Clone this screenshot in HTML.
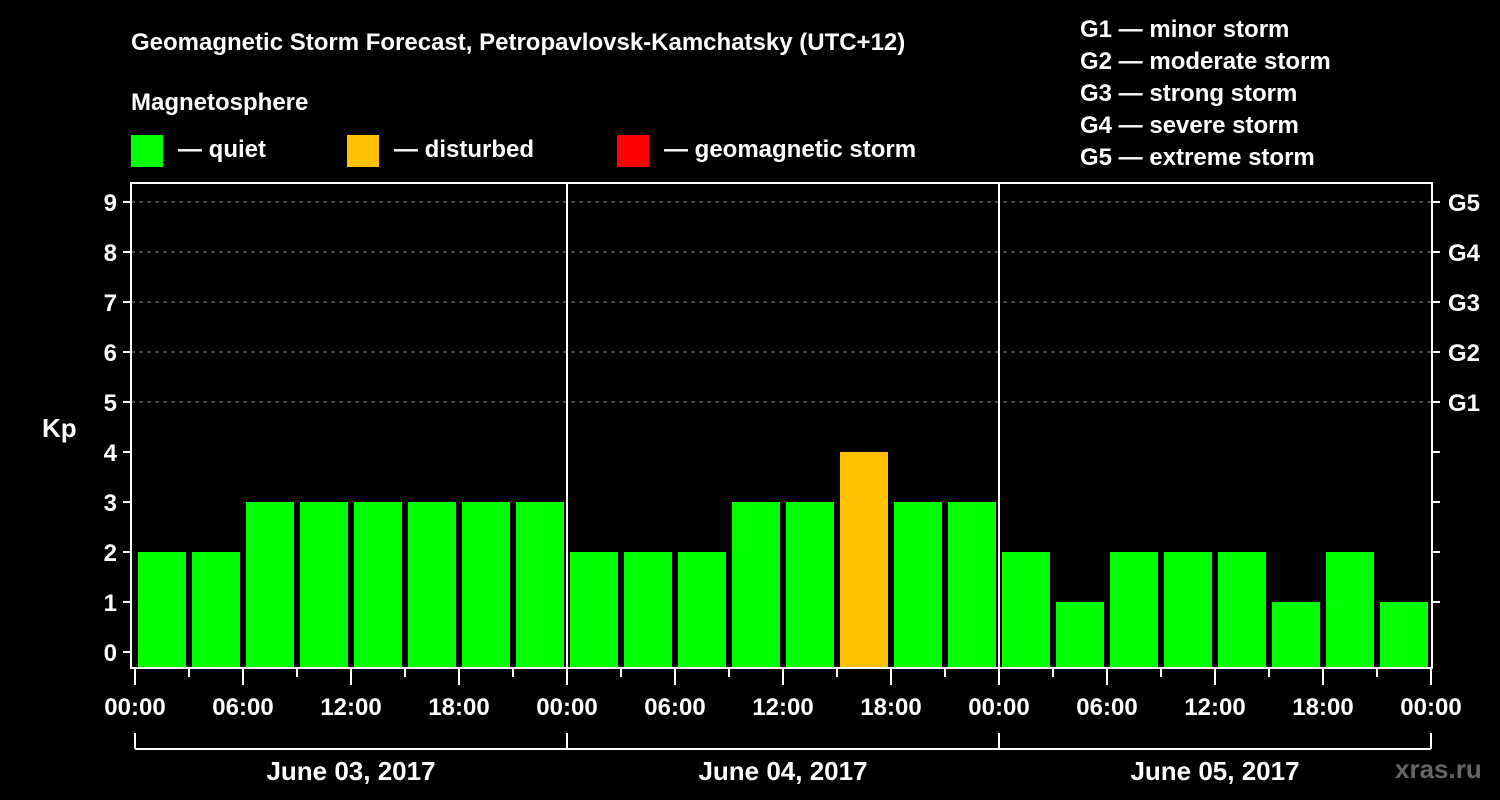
<!DOCTYPE html>
<html><head><meta charset="utf-8"><style>
html,body{margin:0;padding:0;background:#000;}
svg{display:block;font-family:"Liberation Sans",Arial,sans-serif;font-weight:bold;}
</style></head><body>
<svg id="chart" width="1500" height="800" viewBox="0 0 1500 800">
<rect width="1500" height="800" fill="#000"/>
<text x="131" y="50" fill="#fff" font-size="24">Geomagnetic Storm Forecast, Petropavlovsk-Kamchatsky (UTC+12)</text>
<text x="131" y="110" fill="#fff" font-size="24">Magnetosphere</text>
<g><rect x="131" y="135" width="32" height="32" fill="#00ff00"/><text x="178" y="157" fill="#fff" font-size="24">— quiet</text></g>
<g><rect x="347" y="135" width="32" height="32" fill="#ffc000"/><text x="394" y="157" fill="#fff" font-size="24">— disturbed</text></g>
<g><rect x="617" y="135" width="32" height="32" fill="#ff0000"/><text x="664" y="157" fill="#fff" font-size="24">— geomagnetic storm</text></g>
<g fill="#fff" font-size="24">
<text x="1080" y="37">G1 — minor storm</text>
<text x="1080" y="69">G2 — moderate storm</text>
<text x="1080" y="101">G3 — strong storm</text>
<text x="1080" y="133">G4 — severe storm</text>
<text x="1080" y="165">G5 — extreme storm</text>
</g>
<text x="42" y="437" fill="#fff" font-size="26">Kp</text>
<text x="1395" y="778" fill="#666" font-size="26">xras.ru</text>
<g id="grid"></g>
<g id="bars"></g>
<g id="axes"></g>
</svg>
<script>
const kpValues = [2,2,3,3,3,3,3,3, 2,2,2,3,3,4,3,3, 2,1,2,2,2,1,2,1];
const dayLabels = ["June 03, 2017","June 04, 2017","June 05, 2017"];
const hourLabels = ["00:00","06:00","12:00","18:00"];
const yTicks = [0,1,2,3,4,5,6,7,8,9];
const gLabels = ["G1","G2","G3","G4","G5"];
const NS="http://www.w3.org/2000/svg";
const X0=135, SLOT=54, Y0=652, UNIT=50, TOP=183, BOT=668, LEFT=131, RIGHT=1432;
const x = i => X0 + SLOT*i;
const y = v => Y0 - UNIT*v;
function mk(tag, attrs, parent, text){const e=document.createElementNS(NS,tag);for(const k in attrs)e.setAttribute(k,attrs[k]);if(text!==undefined)e.textContent=text;parent.appendChild(e);return e;}
const grid=document.getElementById('grid'), bars=document.getElementById('bars'), axes=document.getElementById('axes');
yTicks.forEach(v=>{
  if(v>=5){const l=mk('line',{x1:LEFT,x2:RIGHT,y1:y(v),y2:y(v),stroke:'#888','stroke-dasharray':'4,4','stroke-width':1},grid);
  
  }
  const t=mk('line',{x1:LEFT-8,x2:LEFT,y1:y(v),y2:y(v),stroke:'#fff','stroke-width':2},axes);
  
  
  const lb=mk('text',{x:LEFT-14,y:y(v)+9,fill:'#fff','font-size':24,'text-anchor':'end'},axes,String(v));
  
  
  if(v>=1){const rt=mk('line',{x1:RIGHT,x2:RIGHT+8,y1:y(v),y2:y(v),stroke:'#fff','stroke-width':2},axes);
  
  }
});
gLabels.forEach((g,i)=>{
  const t=mk('text',{x:RIGHT+16,y:y(i+5)+9,fill:'#fff','font-size':24},axes,g);
  
  
});
kpValues.forEach((v,i)=>{
  const col = v>=5?'#ff0000':(v>=4?'#ffc000':'#00ff00');
  const r=mk('rect',{x:x(i)+3,y:y(v),width:SLOT-6,height:BOT-y(v),fill:col},bars);
  
  
});
const frame=mk('rect',{x:LEFT,y:TOP,width:RIGHT-LEFT,height:BOT-TOP,fill:'none',stroke:'#fff','stroke-width':2},axes);


for(let d=1;d<dayLabels.length;d++){
  const l=mk('line',{x1:x(d*8),x2:x(d*8),y1:TOP,y2:BOT,stroke:'#fff','stroke-width':2},axes);
  
  
}
for(let i=0;i<=kpValues.length;i++){
  const major=i%2===0;
  const t=mk('line',{x1:x(i),x2:x(i),y1:BOT,y2:major?685:677,stroke:'#fff','stroke-width':2},axes);
  
  
  if(major){const lb=mk('text',{x:x(i),y:715,fill:'#fff','font-size':24,'text-anchor':'middle'},axes,hourLabels[(i/2)%4]);
  
  }
}
const br=mk('line',{x1:x(0),x2:x(kpValues.length),y1:749,y2:749,stroke:'#fff','stroke-width':2},axes);


for(let d=0;d<=dayLabels.length;d++){
  const t=mk('line',{x1:x(d*8),x2:x(d*8),y1:733,y2:749,stroke:'#fff','stroke-width':2},axes);
  
  
}
dayLabels.forEach((s,d)=>{
  const t=mk('text',{x:x(d*8+4),y:780,fill:'#fff','font-size':26,'text-anchor':'middle'},axes,s);
  
  
});
</script>
</body></html>
